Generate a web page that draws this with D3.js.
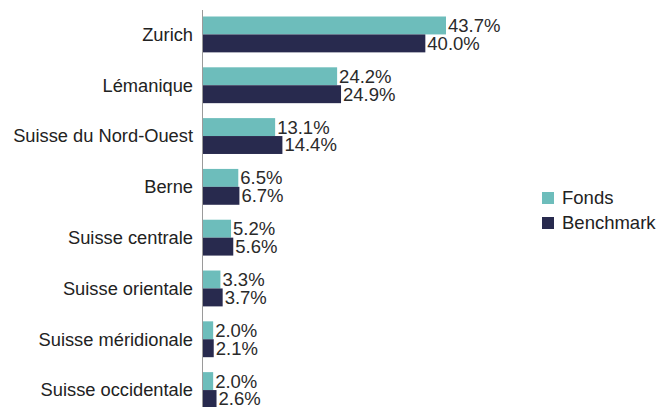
<!DOCTYPE html>
<html>
<head>
<meta charset="utf-8">
<script src="https://cdn.jsdelivr.net/npm/d3@7"></script>
<style>
  body { margin: 0; background: #fff; }
  svg { font-family: "Liberation Sans", Arial, sans-serif; }
</style>
</head>
<body>
<div id="chart"></div>
<script>
const categories = ["Zurich", "Lémanique", "Suisse du Nord-Ouest", "Berne",
  "Suisse centrale", "Suisse orientale", "Suisse méridionale", "Suisse occidentale"];
const fonds     = [43.7, 24.2, 13.1, 6.5, 5.2, 3.3, 2.0, 2.0];
const benchmark = [40.0, 24.9, 14.4, 6.7, 5.6, 3.7, 2.1, 2.6];
const seriesNames = ["Fonds", "Benchmark"];
const colors = ["#6dbdbb", "#282a4e"];

const W = 659, H = 407;
const svg = d3.select("#chart").append("svg").attr("width", W).attr("height", H);

const x0 = 202;
const x = d3.scaleLinear().domain([0, 43.7]).range([x0, 446]);
const y = d3.scaleBand().domain(categories).range([16.5, 408]).paddingInner(15 / 51).paddingOuter(0);
const sub = d3.scaleBand().domain(seriesNames).range([0, y.bandwidth()]);

// axis line
svg.append("line")
  .attr("x1", x0 + 0.5).attr("x2", x0 + 0.5)
  .attr("y1", 10).attr("y2", H)
  .attr("stroke", "#9a9a9a").attr("stroke-width", 1);

const groups = svg.selectAll("g.cat")
  .data(categories)
  .enter().append("g")
    .attr("class", "cat")
    .attr("transform", d => `translate(0,${y(d)})`);

groups.append("text")
  .attr("x", 193)
  .attr("y", y.bandwidth() / 2)
  .attr("dy", "0.35em")
  .attr("text-anchor", "end")
  .style("font-size", "18.3px")
  .style("fill", "#222")
  .text(d => d);

[fonds, benchmark].forEach((vals, s) => {
  groups.append("rect")
    .attr("x", x0 + 1)
    .attr("y", sub(seriesNames[s]))
    .attr("width", (d, i) => x(vals[i]) - x0 - 1)
    .attr("height", sub.bandwidth())
    .attr("fill", colors[s]);

  groups.append("text")
    .attr("x", (d, i) => x(vals[i]) + 2)
    .attr("y", sub(seriesNames[s]) + sub.bandwidth() / 2)
    .attr("dy", "0.35em")
    .style("font-size", "18.5px")
    .style("fill", "#2a2a2a")
    .text((d, i) => vals[i].toFixed(1) + "%");
});

// legend
const leg = svg.append("g").attr("transform", "translate(542,192)");
seriesNames.forEach((n, i) => {
  leg.append("rect")
    .attr("x", 0).attr("y", i * 25)
    .attr("width", 12).attr("height", 12)
    .attr("fill", colors[i]);
  leg.append("text")
    .attr("x", 20).attr("y", i * 25 + 6)
    .attr("dy", "0.35em")
    .style("font-size", "18.5px")
    .style("fill", "#222")
    .text(n);
});
</script>
</body>
</html>
